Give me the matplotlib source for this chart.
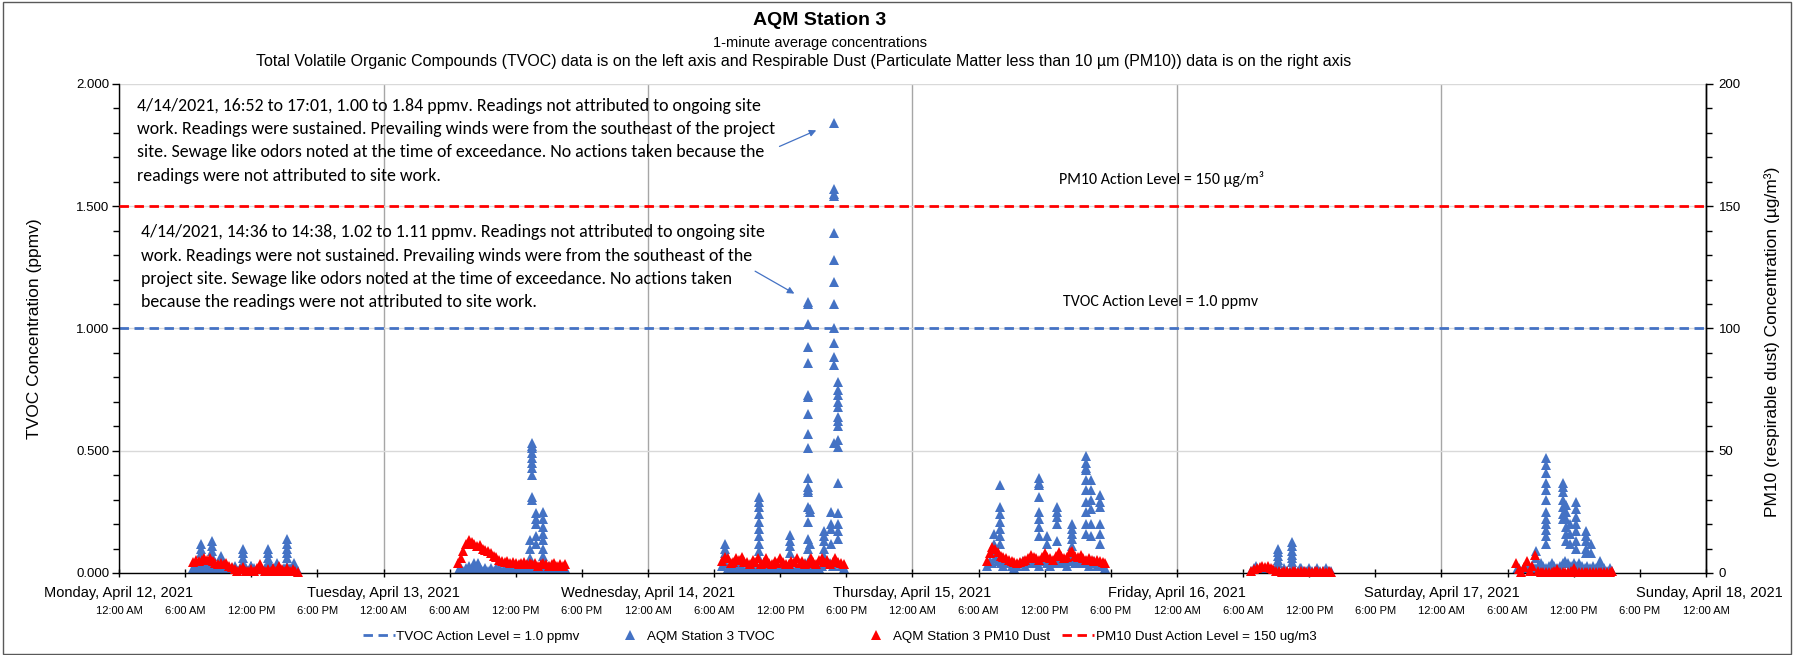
import numpy as np
import matplotlib.pyplot as plt
from matplotlib import transforms
from matplotlib.patches import Rectangle
from matplotlib.ticker import MultipleLocator, FormatStrFormatter

NARROW = ["Liberation Sans Narrow", "DejaVu Sans Condensed", "Liberation Sans"]
ARIAL = ["Liberation Sans", "DejaVu Sans"]
CALIBRI = ["Carlito", "Lato", "DejaVu Sans"]
BLUE = "#4472C4"
RED = "#FF0000"

# x is hours since Monday 4/12/2021 12:00 AM; band data sampled every 15 min
STEP = 0.25

tvoc_action = 1.0
pm10_action = 150

day_labels = ["Monday, April 12, 2021", "Tuesday, April 13, 2021",
              "Wednesday, April 14, 2021", "Thursday, April 15, 2021",
              "Friday, April 16, 2021", "Saturday, April 17, 2021",
              "Sunday, April 18, 2021"]
time_labels = ["12:00 AM", "6:00 AM", "12:00 PM", "6:00 PM"]

# PM10 (ug/m3), start hour + 15-minute values
pm10_mon = (6.75, [4.5, 5.5, 5.0, 5.5, 6.0, 5.5, 6.0, 5.0, 4.0, 3.5, 4.0, 3.5, 4.0,
                   3.0, 2.5, 1.5, 1.0, 1.5, 2.5, 1.0, 1.0, 1.5, 1.0, 2.0, 3.5, 1.5,
                   1.0, 1.5, 1.0, 2.0, 1.0, 3.0, 1.5, 1.0, 2.0, 1.0, 1.5, 1.0, 0.5])
pm10_tue = (30.75, [4, 6, 9, 12, 13.5, 12.5, 12, 11, 11.5, 10, 9.5, 9, 8, 7, 6.5,
                    5.5, 5, 4.5, 5, 4, 4.5, 4, 3.5, 4, 4.5, 3.5, 4, 3.5, 4, 3, 3.5,
                    4, 3.5, 3, 3.5, 4, 3, 3.5, 3, 3.5])
pm10_wed = (54.75, [5, 6.5, 6, 4, 4.5, 6, 5.5, 6.5, 4.5, 4.5, 3.5, 5.5, 4.5, 6, 3.5,
                    4.5, 6, 4, 3.5, 5, 4, 6, 4.5, 3.5, 3.5, 5, 4.5, 6, 4, 5, 3.5, 4, 6,
                    4.5, 3.5, 5.5, 6, 4.5, 5.5, 3.5, 4.5, 6, 4.5, 4, 3.5])
pm10_thu = (78.75, [5, 8, 10.5, 10, 8.5, 7, 6.5, 6, 5.5, 5, 4.5, 4, 4.5, 5, 5.5, 6,
                    7.5, 6.5, 6, 5.5, 6.5, 8, 6.5, 6, 5.5, 7, 8.5, 7, 6, 6.5, 8.5,
                    9, 7, 6.5, 7.5, 6, 5.5, 6, 5.5, 5, 5.5, 5, 4.5, 4])
pm10_fri = (102.75, [1, 1.5, 2, 2.5, 3, 2.5, 3, 2, 1.5, 1, 1, 0.5, 1, 1, 0.5, 1, 1,
                     0.5, 1, 1, 0.5, 1, 0.5, 1, 1, 0.5, 1, 0.5, 1, 0.5])
pm10_sat = (126.75, [4, 1.5, 0.5, 2.5, 5, 1, 3, 7.5, 1, 0.5, 0.5, 0.5, 0.5, 0.5, 1,
                     1.5, 0.5, 0.5, 0.5, 0.5, 1, 2, 0.5, 0.5, 0.5, 0.5, 0.5, 0.5,
                     0.5, 0.5, 0.5, 0.5, 0.5, 0.5, 0.5, 1])

# TVOC (ppmv) background band, start hour + 15-minute values
tvoc_mon = (6.75, [0.02, 0.03, 0.02, 0.04, 0.03, 0.02, 0.03, 0.02, 0.01, 0.02, 0.01,
                   0.02, 0.02, 0.01, 0.02, 0.03, 0.01, 0.02, 0.01, 0.02, 0.01, 0.03,
                   0.02, 0.01, 0.02, 0.01, 0.02, 0.01, 0.03, 0.02, 0.01, 0.02, 0.01,
                   0.02, 0.03, 0.02, 0.01, 0.02, 0.01])
tvoc_tue = (30.75, [0.01, 0.02, 0.01, 0.02, 0.03, 0.02, 0.04, 0.03, 0.02, 0.01, 0.02,
                    0.01, 0.02, 0.01, 0.02, 0.02, 0.01, 0.02, 0.01, 0.03, 0.02, 0.01,
                    0.02, 0.01, 0.02, 0.03, 0.02, 0.01, 0.02, 0.01, 0.02, 0.01, 0.02,
                    0.03, 0.01, 0.02, 0.01, 0.02, 0.01, 0.02])
tvoc_wed = (54.75, [0.03, 0.04, 0.02, 0.03, 0.01, 0.02, 0.03, 0.02, 0.01, 0.02, 0.03,
                    0.02, 0.01, 0.02, 0.03, 0.04, 0.02, 0.01, 0.02, 0.01, 0.03, 0.02,
                    0.01, 0.02, 0.03, 0.02, 0.01, 0.02, 0.03, 0.02, 0.04, 0.02, 0.01,
                    0.02, 0.03, 0.02, 0.03, 0.04, 0.05, 0.04, 0.03, 0.05, 0.04, 0.03,
                    0.02])
tvoc_thu = (78.75, [0.03, 0.05, 0.04, 0.06, 0.05, 0.04, 0.03, 0.05, 0.04, 0.03, 0.02,
                    0.03, 0.04, 0.05, 0.03, 0.04, 0.06, 0.05, 0.04, 0.03, 0.05, 0.06,
                    0.04, 0.03, 0.05, 0.04, 0.06, 0.05, 0.04, 0.03, 0.05, 0.06, 0.04,
                    0.05, 0.06, 0.04, 0.05, 0.03, 0.04, 0.05, 0.03, 0.04, 0.03, 0.02])
tvoc_fri = (102.75, [0.01, 0.02, 0.01, 0.01, 0.02, 0.01, 0.02, 0.01, 0.01, 0.02, 0.01,
                     0.01, 0.02, 0.01, 0.01, 0.02, 0.01, 0.01, 0.02, 0.01, 0.01, 0.02,
                     0.01, 0.01, 0.02, 0.01, 0.01, 0.02, 0.01, 0.01])
tvoc_sat = (126.75, [0.01, 0.02, 0.01, 0.02, 0.03, 0.02, 0.03, 0.02, 0.03, 0.04, 0.03,
                     0.02, 0.03, 0.04, 0.03, 0.02, 0.03, 0.04, 0.05, 0.04, 0.03, 0.04,
                     0.03, 0.04, 0.03, 0.02, 0.03, 0.02, 0.03, 0.02, 0.02, 0.01, 0.02,
                     0.01, 0.02, 0.01])

# TVOC spikes: (hour, readings around that time)
tvoc_mon_spikes = [(7.4, [0.12, 0.10, 0.08, 0.06]),
                   (8.4, [0.13, 0.11, 0.09, 0.07, 0.05]),
                   (9.3, [0.07, 0.05]),
                   (11.25, [0.10, 0.08, 0.06, 0.04]),
                   (12.0, [0.03]),
                   (13.5, [0.10, 0.08, 0.06, 0.04]),
                   (14.3, [0.04]),
                   (15.25, [0.14, 0.12, 0.10, 0.08, 0.06]),
                   (15.9, [0.04, 0.03])]
tvoc_tue_spikes = [(32.6, [0.04, 0.03]),
                   (37.3, [0.135, 0.10, 0.06]),
                   (37.5, [0.53, 0.52, 0.51, 0.49, 0.47, 0.45, 0.43, 0.40, 0.31, 0.30]),
                   (37.8, [0.245, 0.22, 0.20, 0.15, 0.12]),
                   (38.5, [0.25, 0.22, 0.19, 0.16, 0.135, 0.10, 0.07, 0.05])]
tvoc_wed_spikes = [(55.0, [0.12, 0.10, 0.08, 0.06]),
                   (58.1, [0.31, 0.29, 0.27, 0.24, 0.21, 0.18, 0.15, 0.12, 0.09, 0.06]),
                   (60.9, [0.155, 0.13, 0.11, 0.08]),
                   (62.5, [1.11, 1.10, 1.02, 0.925, 0.86, 0.73, 0.72, 0.65, 0.57, 0.51,
                           0.39, 0.35, 0.34, 0.33, 0.27, 0.21, 0.14, 0.10]),
                   (62.7, [0.26, 0.25, 0.12, 0.06]),
                   (64.0, [0.17, 0.15, 0.13, 0.10, 0.07, 0.05]),
                   (64.6, [0.25, 0.20, 0.18, 0.12]),
                   (64.9, [1.84, 1.57, 1.55, 1.54, 1.39, 1.28, 1.19, 1.10, 1.00, 0.94,
                           0.885, 0.85, 0.53]),
                   (65.2, [0.78, 0.75, 0.73, 0.70, 0.68, 0.64, 0.62, 0.60, 0.545, 0.515,
                           0.37, 0.245, 0.20, 0.17, 0.14])]
tvoc_thu_spikes = [(79.4, [0.16, 0.12, 0.09]),
                   (79.9, [0.36, 0.27, 0.24, 0.21, 0.18, 0.15, 0.12]),
                   (83.5, [0.39, 0.37, 0.36, 0.31, 0.25, 0.22, 0.19, 0.15]),
                   (84.2, [0.15, 0.12]),
                   (85.1, [0.27, 0.25, 0.23, 0.20, 0.13]),
                   (86.5, [0.20, 0.18, 0.16, 0.14, 0.11]),
                   (87.7, [0.48, 0.45, 0.43, 0.42, 0.38, 0.34, 0.29, 0.25, 0.20, 0.16]),
                   (88.2, [0.38, 0.34, 0.30, 0.26, 0.20, 0.15]),
                   (89.0, [0.32, 0.29, 0.27, 0.20, 0.16, 0.12])]
tvoc_fri_spikes = [(103.2, [0.03]),
                   (105.2, [0.10, 0.085, 0.07, 0.055, 0.04]),
                   (106.4, [0.127, 0.11, 0.09, 0.075, 0.06, 0.045]),
                   (107.2, [0.02])]
tvoc_sat_spikes = [(128.6, [0.09, 0.06]),
                   (129.5, [0.47, 0.44, 0.41, 0.37, 0.34, 0.30, 0.25, 0.22, 0.20, 0.175,
                            0.15, 0.12]),
                   (131.0, [0.37, 0.35, 0.33, 0.30, 0.27, 0.24, 0.22]),
                   (131.3, [0.28, 0.25, 0.22, 0.19, 0.16, 0.13]),
                   (131.7, [0.20, 0.16, 0.12]),
                   (132.2, [0.29, 0.26, 0.23, 0.20, 0.17, 0.13, 0.10]),
                   (133.1, [0.17, 0.15, 0.13, 0.10, 0.08]),
                   (133.6, [0.12, 0.08]),
                   (134.4, [0.05, 0.03])]

note_1 = ("4/14/2021, 16:52 to 17:01, 1.00 to 1.84 ppmv. Readings not attributed to ongoing site\n"
          "work. Readings were sustained. Prevailing winds were from the southeast of the project\n"
          "site. Sewage like odors noted at the time of exceedance. No actions taken because the\n"
          "readings were not attributed to site work.")
note_2 = ("4/14/2021, 14:36 to 14:38, 1.02 to 1.11 ppmv. Readings not attributed to ongoing site\n"
          "work. Readings were not sustained. Prevailing winds were from the southeast of the\n"
          "project site. Sewage like odors noted at the time of exceedance. No actions taken\n"
          "because the readings were not attributed to site work.")


def band(data):
    start, vals = data
    return list(start + STEP * np.arange(len(vals))), list(vals)


def spikes(groups):
    xs, ys = [], []
    for h, vals in groups:
        xs += [h] * len(vals)
        ys += vals
    return xs, ys


tvoc_x, tvoc_y = [], []
for d in [tvoc_mon, tvoc_tue, tvoc_wed, tvoc_thu, tvoc_fri, tvoc_sat]:
    x, y = band(d)
    tvoc_x += x
    tvoc_y += y
for g in [tvoc_mon_spikes, tvoc_tue_spikes, tvoc_wed_spikes, tvoc_thu_spikes,
          tvoc_fri_spikes, tvoc_sat_spikes]:
    x, y = spikes(g)
    tvoc_x += x
    tvoc_y += y

pm_x, pm_y = [], []
for d in [pm10_mon, pm10_tue, pm10_wed, pm10_thu, pm10_fri, pm10_sat]:
    x, y = band(d)
    pm_x += x
    pm_y += y

fig = plt.figure(figsize=(17.95, 6.55), dpi=100)
ax = fig.add_axes([0.0663, 0.1252, 0.8841, 0.7466])
ax2 = ax.twinx()

dash = (3.4, 2.0)
l1, = ax.plot([0, 144], [tvoc_action, tvoc_action], color=BLUE, lw=2, dashes=dash)
p1, = ax.plot(tvoc_x, tvoc_y, ls="none", marker="^", ms=6.5, mew=0, color=BLUE)
p2, = ax2.plot(pm_x, pm_y, ls="none", marker="^", ms=7.5, mew=0, color=RED, clip_on=False)
l2, = ax2.plot([0, 144], [pm10_action, pm10_action], color=RED, lw=2, dashes=dash)

ax.set_xlim(0, 144)
ax.set_ylim(0, 2)
ax2.set_ylim(0, 200)
ax.set_xticks(np.arange(0, 145, 24))
ax.set_xticks(np.arange(0, 145, 6), minor=True)
ax.set_xticklabels([])
ax.set_yticks(np.arange(0, 2.01, 0.5))
ax.yaxis.set_minor_locator(MultipleLocator(0.1))
ax.yaxis.set_major_formatter(FormatStrFormatter("%.3f"))
ax2.set_yticks(np.arange(0, 201, 50))
ax2.yaxis.set_minor_locator(MultipleLocator(10))

ax.grid(axis="y", color="#D9D9D9", lw=1)
ax.grid(axis="x", which="major", color="#A6A6A6", lw=1)
ax.set_axisbelow(True)

for a in (ax, ax2):
    a.spines["top"].set_visible(False)
    for s in a.spines.values():
        s.set_linewidth(1)
ax2.spines["left"].set_visible(False)
ax2.spines["bottom"].set_visible(False)

ax.tick_params(axis="y", which="major", length=5, width=1, pad=2, labelsize=9.5)
ax.tick_params(axis="y", which="minor", length=4, width=1)
ax2.tick_params(axis="y", which="major", length=5, width=1, pad=4, labelsize=9.5)
ax2.tick_params(axis="y", which="minor", length=4, width=1)
ax.tick_params(axis="x", which="both", direction="inout", length=6, width=1)
for lab in ax.get_yticklabels() + ax2.get_yticklabels():
    lab.set_family(ARIAL)

trans = transforms.blended_transform_factory(ax.transData, ax.transAxes)
for i, lab in enumerate(day_labels):
    xpos, ha = 24 * i, "center"
    if i == len(day_labels) - 1:
        xpos, ha = 151, "right"
    ax.text(xpos, -0.04, lab, transform=trans, ha=ha, va="center",
            fontsize=10.5, family=NARROW, clip_on=False)
for k, h in enumerate(range(0, 145, 6)):
    ax.text(h, -0.078, time_labels[k % 4], transform=trans, ha="center",
            va="center", fontsize=8, family=NARROW, clip_on=False)

fig.text(0.019, 0.4985, "TVOC Concentration (ppmv)", rotation=90, ha="center",
         va="center", fontsize=12.5, family=ARIAL)
fig.text(0.987, 0.478, "PM10 (respirable dust) Concentration (µg/m³)", rotation=90,
         ha="center", va="center", fontsize=12.5, family=ARIAL)

fig.text(0.4566, 0.969, "AQM Station 3", ha="center", va="center", fontsize=14,
         weight="bold", family=NARROW)
fig.text(0.4566, 0.934, "1-minute average concentrations", ha="center", va="center",
         fontsize=10.5, family=NARROW)
fig.text(0.4477, 0.906, "Total Volatile Organic Compounds (TVOC) data is on the left axis "
         "and Respirable Dust (Particulate Matter less than 10 µm (PM10)) data is on the "
         "right axis", ha="center", va="center", fontsize=11.5, family=NARROW)

ax.text(0.0113, 0.972, note_1, transform=ax.transAxes, ha="left", va="top",
        fontsize=12.85, family=CALIBRI, linespacing=1.56)
ax.text(0.0139, 0.713, note_2, transform=ax.transAxes, ha="left", va="top",
        fontsize=12.85, family=CALIBRI, linespacing=1.56)
ax.annotate("", xy=(63.5, 1.815), xytext=(59.7, 1.74),
            arrowprops=dict(arrowstyle="-|>", color=BLUE, lw=0.9, mutation_scale=10))
ax.annotate("", xy=(61.5, 1.137), xytext=(57.5, 1.24),
            arrowprops=dict(arrowstyle="-|>", color=BLUE, lw=0.9, mutation_scale=10))

ax.text(0.6566, 0.8065, "PM10 Action Level = 150 µg/m³", transform=ax.transAxes,
        ha="center", va="center", fontsize=11.5, family=CALIBRI)
ax.text(0.6566, 0.554, "TVOC Action Level = 1.0 ppmv", transform=ax.transAxes,
        ha="center", va="center", fontsize=11.5, family=CALIBRI)

# legend entries placed one by one, as in the original layout
entries = [(l1, "TVOC Action Level = 1.0 ppmv", 0.2022),
           (p1, "AQM Station 3 TVOC", 0.3418),
           (p2, "AQM Station 3 PM10 Dust", 0.479),
           (l2, "PM10 Dust Action Level = 150 ug/m3", 0.5918)]
for handle, text, xpos in entries:
    fig.legend([handle], [text], loc="center left", bbox_to_anchor=(xpos, 0.028),
               frameon=False, prop={"family": NARROW, "size": 9.6},
               handlelength=2.4, handletextpad=0.1, borderpad=0, borderaxespad=0)

fig.patches.append(Rectangle((0.0015, 0.002), 0.996, 0.995, transform=fig.transFigure,
                             fill=False, ec="#595959", lw=1))

fig.savefig("out.png", dpi=100)
